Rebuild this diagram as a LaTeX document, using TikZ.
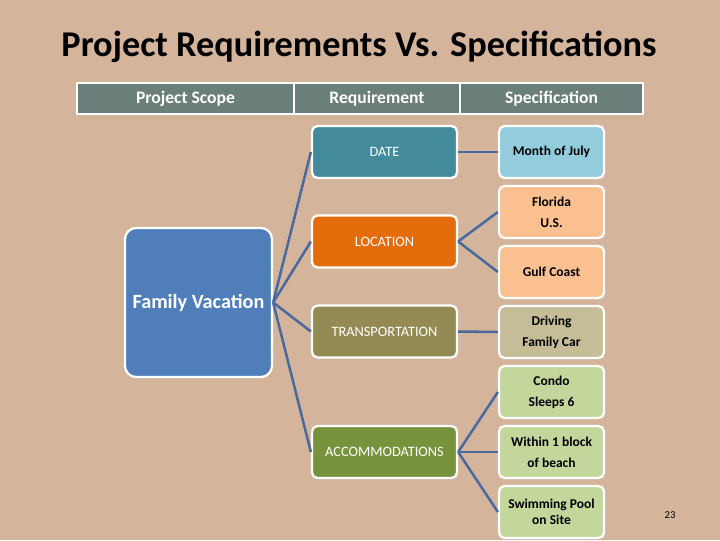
\documentclass[tikz,border=0pt]{standalone}
\usepackage{fontspec}
\setmainfont{Carlito}
\usepackage{tikz}
\usetikzlibrary{positioning}
\definecolor{page_bg}{HTML}{D4B59B}
\definecolor{head_fill}{HTML}{6B7F7A}
\definecolor{scope_fill}{HTML}{4F7EBB}
\definecolor{link_col}{HTML}{4A6A9E}
\definecolor{date_fill}{HTML}{438A9C}
\definecolor{loc_fill}{HTML}{E46C0A}
\definecolor{trans_fill}{HTML}{948A54}
\definecolor{acc_fill}{HTML}{77933C}
\definecolor{date_spec}{HTML}{93CDDD}
\definecolor{loc_spec}{HTML}{FAC090}
\definecolor{trans_spec}{HTML}{C4BD97}
\definecolor{acc_spec}{HTML}{C3D69B}

\begin{document}
\begin{tikzpicture}[
    x=0.025cm, y=-0.025cm,
    % stili per le caselle
    head_cell/.style = {
        fill=head_fill,
        draw=white,
        line width=1.2pt,
        minimum height=0.775cm,
        text=white,
        font=\fontsize{12.5}{14}\selectfont\bfseries,
        inner sep=0
    },
    req_box/.style = {
        rectangle,
        rounded corners=4pt,
        draw=white,
        line width=1.6pt,
        minimum width=3.625cm,
        minimum height=1.3cm,
        text=white,
        font=\fontsize{10.2}{12}\selectfont,
        inner sep=0
    },
    spec_box/.style = {
        rectangle,
        rounded corners=4pt,
        draw=white,
        line width=1.6pt,
        minimum width=2.625cm,
        minimum height=1.3cm,
        align=center,
        font=\fontsize{9.6}{15}\selectfont\bfseries,
        inner sep=0
    },
    link/.style = {
        draw=link_col,
        line width=1.8pt
    }
]

% sfondo e cornice
\fill[page_bg] (0,0) rectangle (720,540);
\useasboundingbox (0,0) rectangle (720,540);

% titolo
\node (title) at (359,47) {\fontsize{25.8}{30}\selectfont\bfseries Project Requirements Vs. Specifications};

% intestazione
\node[head_cell, minimum width=5.425cm] (h_scope) at (185.5,98.5) {Project Scope};
\node[head_cell, minimum width=4.15cm] (h_req) at (377,98.5) {Requirement};
\node[head_cell, minimum width=4.575cm] (h_spec) at (551.5,98.5) {Specification};

% progetto
\node[req_box, fill=scope_fill, minimum width=3.675cm, minimum height=3.725cm,
      rounded corners=8pt, font=\fontsize{14.4}{16}\selectfont\bfseries] (scope) at (198.5,302.5) {Family Vacation};

% requisiti
\node[req_box, fill=date_fill] (date) at (384.5,152) {DATE};
\node[req_box, fill=loc_fill] (loc) at (384.5,241.5) {LOCATION};
\node[req_box, fill=trans_fill] (trans) at (384.5,331.5) {TRANSPORTATION};
\node[req_box, fill=acc_fill] (acc) at (384.5,452) {ACCOMMODATIONS};

% specifiche
\node[spec_box, fill=date_spec] (july) at (551.5,152) {Month of July};
\node[spec_box, fill=loc_spec] (florida) at (551.5,212) {Florida\\U.S.};
\node[spec_box, fill=loc_spec] (gulf) at (551.5,272) {Gulf Coast};
\node[spec_box, fill=trans_spec] (car) at (551.5,332) {Driving\\Family Car};
\node[spec_box, fill=acc_spec] (condo) at (551.5,392) {Condo\\Sleeps 6};
\node[spec_box, fill=acc_spec] (beach) at (551.5,452) {Within 1 block\\of beach};
\node[spec_box, fill=acc_spec, font=\fontsize{9.6}{11.5}\selectfont\bfseries] (pool) at (551.5,512) {Swimming Pool\\on Site};

% collegamenti
\foreach \r in {date, loc, trans, acc}
    \draw[link] (scope.east) -- (\r.west);
\draw[link] (date.east) -- (july.west);
\draw[link] (loc.east) -- (florida.west);
\draw[link] (loc.east) -- (gulf.west);
\draw[link] (trans.east) -- (car.west);
\draw[link] (acc.east) -- (condo.west);
\draw[link] (acc.east) -- (beach.west);
\draw[link] (acc.east) -- (pool.west);

% numero di pagina
\node[font=\fontsize{7.5}{9}\selectfont] (page_no) at (670,515) {23};

\end{tikzpicture}
\end{document}
